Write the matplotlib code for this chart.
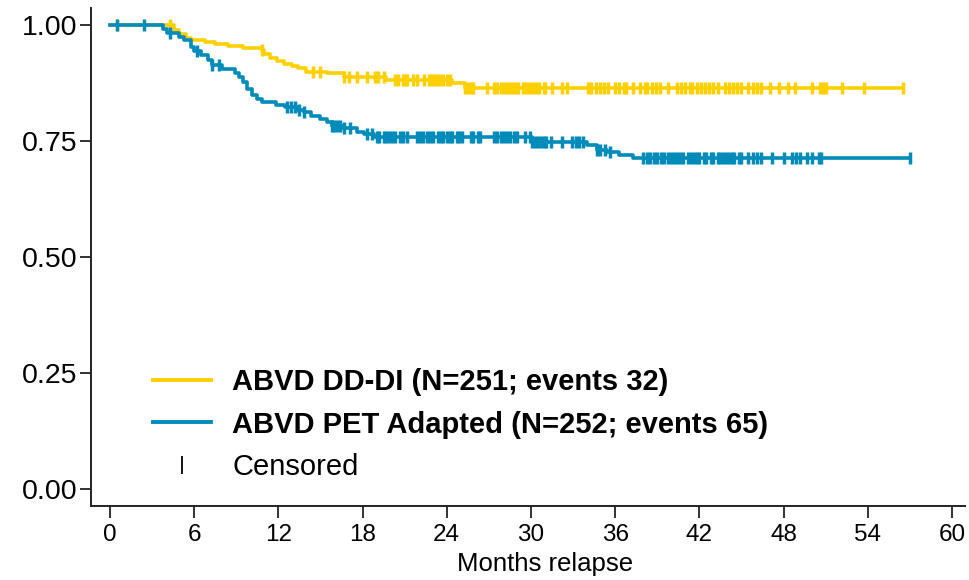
import numpy as np
import matplotlib
matplotlib.use("Agg")
import matplotlib.pyplot as plt
from matplotlib.lines import Line2D

plt.rcParams['font.family'] = ['Liberation Sans', 'DejaVu Sans']

# Kaplan-Meier steps (time in months, survival after step)
dd_times = [0, 4.6, 4.9, 5.4, 5.8, 6.8, 7.5, 8.4, 9.5, 10.8, 11.0, 11.4, 11.9,
            12.4, 13.0, 13.4, 14.0, 15.5, 16.7, 19.7, 24.4, 25.3]
dd_surv = [1.0, 0.99, 0.98, 0.972, 0.968, 0.963, 0.958, 0.955, 0.951, 0.947,
           0.938, 0.929, 0.922, 0.916, 0.911, 0.907, 0.899, 0.896, 0.888,
           0.881, 0.875, 0.864]
dd_end = 56.5
dd_cens = [0.5, 4.3, 10.8, 14.5, 15.0, 16.7, 17.0, 17.6, 18.3, 18.9, 19.1, 19.5,
           20.3, 20.5, 20.9, 21.0, 21.2, 21.6, 21.9, 22.4, 22.7, 22.9, 23.1,
           23.3, 23.5, 23.7, 24.0, 24.2, 25.3, 25.5, 25.7, 25.9, 26.9, 27.4,
           27.6, 27.9, 28.1, 28.3, 28.5, 28.7, 28.9, 29.1, 29.4, 29.6, 29.8,
           30.0, 30.2, 30.4, 30.6, 30.9, 31.0, 31.5, 32.2, 32.6, 34.1, 34.3,
           34.6, 34.9, 35.2, 35.5, 36.0, 36.3, 36.6, 36.8, 37.3, 37.8, 38.1,
           38.3, 38.6, 38.9, 39.2, 39.8, 40.4, 40.7, 41.0, 41.3, 41.5, 41.8,
           42.1, 42.4, 42.7, 43.0, 43.3, 43.8, 44.1, 44.4, 44.7, 45.0, 45.5,
           45.8, 46.1, 46.4, 47.0, 47.7, 48.3, 48.8, 50.0, 50.6, 50.8, 51.0,
           52.2, 53.7, 56.5]

pet_times = [0, 3.8, 4.1, 4.9, 5.3, 5.8, 6.0, 6.5, 7.0, 7.3, 8.0, 8.9, 9.2, 9.5,
             9.8, 10.1, 10.5, 10.8, 11.8, 12.5, 13.3, 13.8, 14.3, 15.0, 15.5,
             15.8, 16.6, 17.6, 18.1, 18.8, 30.1, 34.0, 34.7, 35.4, 36.3, 37.3]
pet_surv = [1.0, 0.991, 0.983, 0.975, 0.968, 0.953, 0.944, 0.936, 0.925, 0.914,
            0.905, 0.896, 0.887, 0.877, 0.863, 0.849, 0.840, 0.834, 0.828,
            0.823, 0.816, 0.812, 0.804, 0.798, 0.792, 0.782, 0.778, 0.770,
            0.765, 0.759, 0.748, 0.741, 0.731, 0.726, 0.720, 0.713]
pet_end = 57.0
pet_cens = [0.5, 2.4, 4.3, 6.2, 7.3, 7.8, 12.6, 12.9, 13.2, 13.5, 13.8, 15.8,
            16.0, 16.2, 16.4, 16.7, 17.1, 18.3, 18.7, 19.0, 19.2, 19.5, 19.7,
            19.9, 20.1, 20.3, 20.7, 20.9, 21.2, 21.9, 22.1, 22.3, 22.6, 22.8,
            23.0, 23.4, 23.6, 23.7, 24.0, 24.2, 24.4, 24.7, 24.9, 25.1, 25.7,
            25.9, 26.2, 26.4, 27.4, 27.6, 27.9, 28.1, 28.3, 28.5, 28.8, 29.0,
            29.6, 29.9, 30.1, 30.3, 30.5, 30.7, 30.9, 31.1, 31.4, 32.2, 32.9,
            33.2, 33.4, 33.7, 34.7, 34.9, 35.3, 35.6, 38.0, 38.3, 38.5, 38.8,
            39.0, 39.3, 39.5, 39.8, 40.0, 40.2, 40.4, 40.6, 40.8, 41.2, 41.4,
            41.6, 41.8, 42.0, 42.3, 42.5, 42.8, 43.0, 43.3, 43.5, 43.7, 43.9,
            44.1, 44.3, 44.5, 44.8, 45.0, 45.5, 45.8, 46.1, 46.4, 47.2, 48.0,
            48.6, 48.9, 49.2, 49.7, 50.0, 50.5, 50.7, 57.0]

labels = ['ABVD DD-DI (N=251; events 32)', 'ABVD PET Adapted (N=252; events 65)', 'Censored']
yellow = '#FFD000'
blue = '#008BBB'


def km_plot(ax, times, surv, end, cens, color):
    t = np.array(times + [end])
    s = np.array(surv + [surv[-1]])
    ax.step(t, s, where='post', color=color, lw=2.6, zorder=3)
    idx = np.searchsorted(np.array(times), np.array(cens), side='right') - 1
    ax.plot(cens, np.array(surv)[idx], ls='none', marker='|', ms=9, mew=2.5,
            color=color, zorder=3)


fig = plt.figure(figsize=(9.7, 5.8), dpi=100)
ax = fig.add_axes([91 / 970, 74 / 580, 874 / 970, 498 / 580])

km_plot(ax, dd_times, dd_surv, dd_end, dd_cens, yellow)
km_plot(ax, pet_times, pet_surv, pet_end, pet_cens, blue)

ax.set_xlim(-1.35, 60.93)
ax.set_ylim(-0.0366, 1.0366)
ax.set_xticks(range(0, 61, 6))
ax.set_yticks([0, 0.25, 0.5, 0.75, 1.0])
ax.set_yticklabels(['0.00', '0.25', '0.50', '0.75', '1.00'])
for sp in ['top', 'right']:
    ax.spines[sp].set_visible(False)
for sp in ['left', 'bottom']:
    ax.spines[sp].set_linewidth(1.4)
    ax.spines[sp].set_color('#222222')
ax.tick_params(axis='y', length=8, width=1.3, labelsize=20.5, pad=2, color='#222222')
ax.tick_params(axis='x', length=8.5, width=1.3, labelsize=17.5, pad=4.5, color='#222222')
ax.set_xlabel('Months relapse', fontsize=18.5)
ax.xaxis.set_label_coords(0.519, -0.092)

handles = [Line2D([], [], color=yellow, lw=2.8),
           Line2D([], [], color=blue, lw=2.8),
           Line2D([], [], color='black', ls='none', marker='|', ms=13, mew=1.3)]
leg = fig.legend(handles, labels, loc='upper left',
                 bbox_to_anchor=(153 / 970, 1 - 368 / 580), frameon=False,
                 fontsize=21, borderpad=0, borderaxespad=0, handlelength=2.0,
                 handletextpad=0.72, labelspacing=0.5)
for txt in leg.get_texts()[:2]:
    txt.set_fontweight('bold')

fig.savefig('out.png', dpi=100)
